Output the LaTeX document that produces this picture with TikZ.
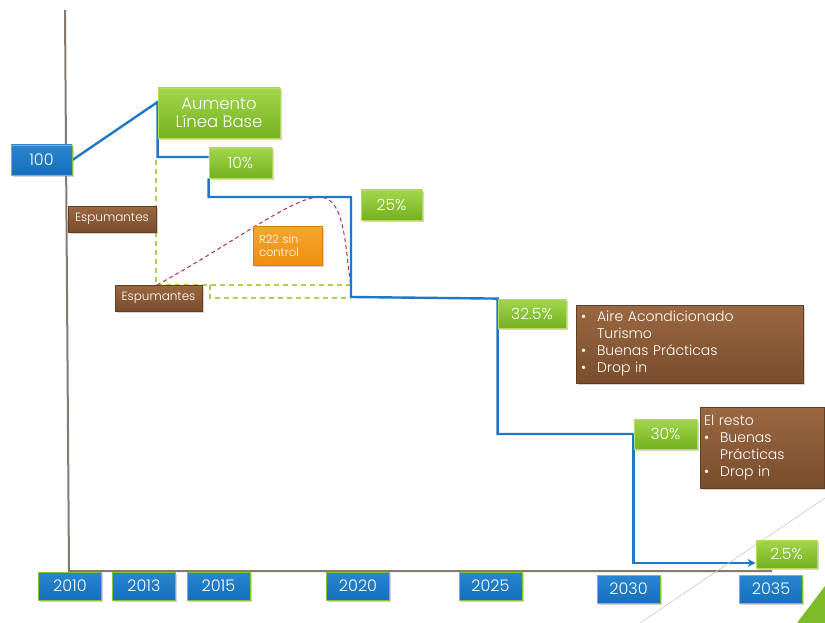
\documentclass[tikz,border=0pt]{standalone}
\usepackage{fontspec}
\setmainfont{Poppins Light}
\usetikzlibrary{shadows,arrows.meta}
\definecolor{gtop}{HTML}{A2D64C}
\definecolor{gbot}{HTML}{74B11F}
\definecolor{gborder}{HTML}{B5DC5A}
\definecolor{btop}{HTML}{2A86D0}
\definecolor{bbot}{HTML}{1570BD}
\definecolor{bborder}{HTML}{8DBF3A}
\definecolor{brtop}{HTML}{9A6842}
\definecolor{brbot}{HTML}{7A4D2C}
\definecolor{otop}{HTML}{F7A630}
\definecolor{obot}{HTML}{EE8F10}
\definecolor{lline}{HTML}{1E77C8}
\definecolor{axisc}{HTML}{857A70}
\definecolor{dgreen}{HTML}{AED04A}
\definecolor{dred}{HTML}{B03060}
\definecolor{diag}{HTML}{C8C8C8}
\definecolor{corner}{HTML}{7DBB2A}
\pgfdeclarelayer{background}
\pgfsetlayers{background,main}
\begin{document}
\begin{tikzpicture}[x=1pt,y=-1pt,
  box/.style={inner sep=0pt, text=white, align=center,
    drop shadow={shadow xshift=1.5pt,shadow yshift=-2pt,opacity=0.35}},
  gbox/.style={box, top color=gtop, bottom color=gbot, draw=gborder, line width=0.8pt,
    font=\fontsize{15.5}{17}\selectfont},
  bbox/.style={box, top color=btop, bottom color=bbot, draw=bborder, line width=0.8pt,
    minimum width=63pt, minimum height=28pt, font=\fontsize{16}{18}\selectfont},
  brbox/.style={box, top color=brtop, bottom color=brbot, draw=brbot!80!black, line width=0.6pt},
  obox/.style={box, top color=otop, bottom color=obot, draw=obot!90!black, line width=0.6pt},
  bluel/.style={draw=lline, line width=2.4pt, line join=miter},
  gdash/.style={draw=dgreen, line width=1.5pt, dash pattern=on 5pt off 4pt},
  rdash/.style={draw=dred, line width=1pt, dash pattern=on 4pt off 3pt},
  axisl/.style={draw=axisc, line width=2pt}
]
\useasboundingbox (0,0) rectangle (825,623);

% decorations in the lower right corner
\coordinate (d1) at (640,623);
\coordinate (d2) at (825,498);
\draw[diag, line width=0.6pt] (d1) -- (d2);
\coordinate (t1) at (797,623);
\coordinate (t2) at (825,586);
\coordinate (t3) at (825,623);
\fill[corner] (t1) -- (t2) -- (t3) -- cycle;

% nodes
\node[bbox, minimum width=61pt, minimum height=30pt] (n100) at (41.5,160) {100};
\node[gbox, minimum width=122pt, minimum height=50pt, font=\fontsize{16.5}{18.5}\selectfont] (aum) at (219,113) {Aumento\\Línea Base};
\node[gbox, minimum width=63pt, minimum height=30pt] (p10) at (240.5,163) {10\%};
\node[gbox, minimum width=61pt, minimum height=30pt] (p25) at (391.5,205) {25\%};
\node[gbox, minimum width=68pt, minimum height=29pt] (p325) at (532,313.5) {32.5\%};
\node[gbox, minimum width=63pt, minimum height=30pt] (p30) at (665.5,434) {30\%};
\node[gbox, minimum width=61pt, minimum height=28pt] (p2) at (786.5,554) {2.5\%};

\node[brbox, minimum width=88pt, minimum height=26pt, font=\fontsize{12}{14}\selectfont] (esp1) at (112,219) {Espumantes};
\node[brbox, minimum width=87pt, minimum height=26pt, font=\fontsize{12}{14}\selectfont] (esp2) at (158.5,298) {Espumantes};
\node[obox, minimum width=69pt, minimum height=39pt, text width=57pt, align=left, font=\fontsize{11.5}{13}\selectfont] (r22) at (287.5,245.5) {R22 sin\\control};

\node[brbox, minimum width=227pt, minimum height=78pt, text width=217pt, align=left,
  font=\fontsize{14}{17}\selectfont] (br1) at (689.5,344)
  {\begin{tabular}{@{}l@{\hspace{11pt}}l@{}}
   \textbullet & Aire Acondicionado\\
               & Turismo\\
   \textbullet & Buenas Prácticas\\
   \textbullet & Drop in
   \end{tabular}};
\node[brbox, minimum width=124pt, minimum height=81pt, text width=116pt, align=left,
  font=\fontsize{14}{17}\selectfont] (br2) at (762,447.5)
  {\begin{tabular}{@{}l@{\hspace{11pt}}l@{}}
   \multicolumn{2}{@{}l@{}}{El resto}\\
   \textbullet & Buenas\\
               & Prácticas\\
   \textbullet & Drop in
   \end{tabular}};

\node[bbox] (y2010) at (70,586) {2010};
\node[bbox] (y2013) at (144,586) {2013};
\node[bbox] (y2015) at (218.5,586) {2015};
\node[bbox] (y2020) at (358,586) {2020};
\node[bbox] (y2025) at (490.5,586) {2025};
\node[bbox] (y2030) at (628.5,589) {2030};
\node[bbox] (y2035) at (771,589) {2035};

% lines behind the boxes
\begin{pgfonlayer}{background}
\coordinate (atop) at (65,10);
\coordinate (aorig) at (69,571);
\coordinate (aend) at (772,571);
\draw[axisl] (atop) -- (aorig) -- (aend);

\coordinate (g1) at (156,160);
\coordinate (g2) at (156,285);
\coordinate (g3) at (351,285);
\coordinate (g4) at (210,285);
\coordinate (g5) at (210,298);
\coordinate (g6) at (351,298);
\draw[gdash] (g1) -- (g2) -- (g3);
\draw[gdash] (g4) -- (g5) -- (g6);

\coordinate (rstart) at (157,285);
\coordinate (rpeak) at (318,197);
\coordinate (rend) at (351,287);
\draw[rdash] (rstart) .. controls (230,245) and (290,199) .. (rpeak)
  .. controls (346,195) and (345,250) .. (rend);

\coordinate (c25) at (351,197);
\coordinate (c32) at (351,297);
\draw[bluel] (n100.east) -- ([yshift=11pt]aum.west) |- ([yshift=6pt]p10.west);
\draw[bluel] (p10.south west) |- (c25) -- (c32) -- (p325.north west)
  |- (p30.west);
\draw[bluel, -{Stealth[length=8pt,width=8pt]}] (p30.west) |- ([yshift=-9pt]p2.west);
\end{pgfonlayer}
\end{tikzpicture}
\end{document}
